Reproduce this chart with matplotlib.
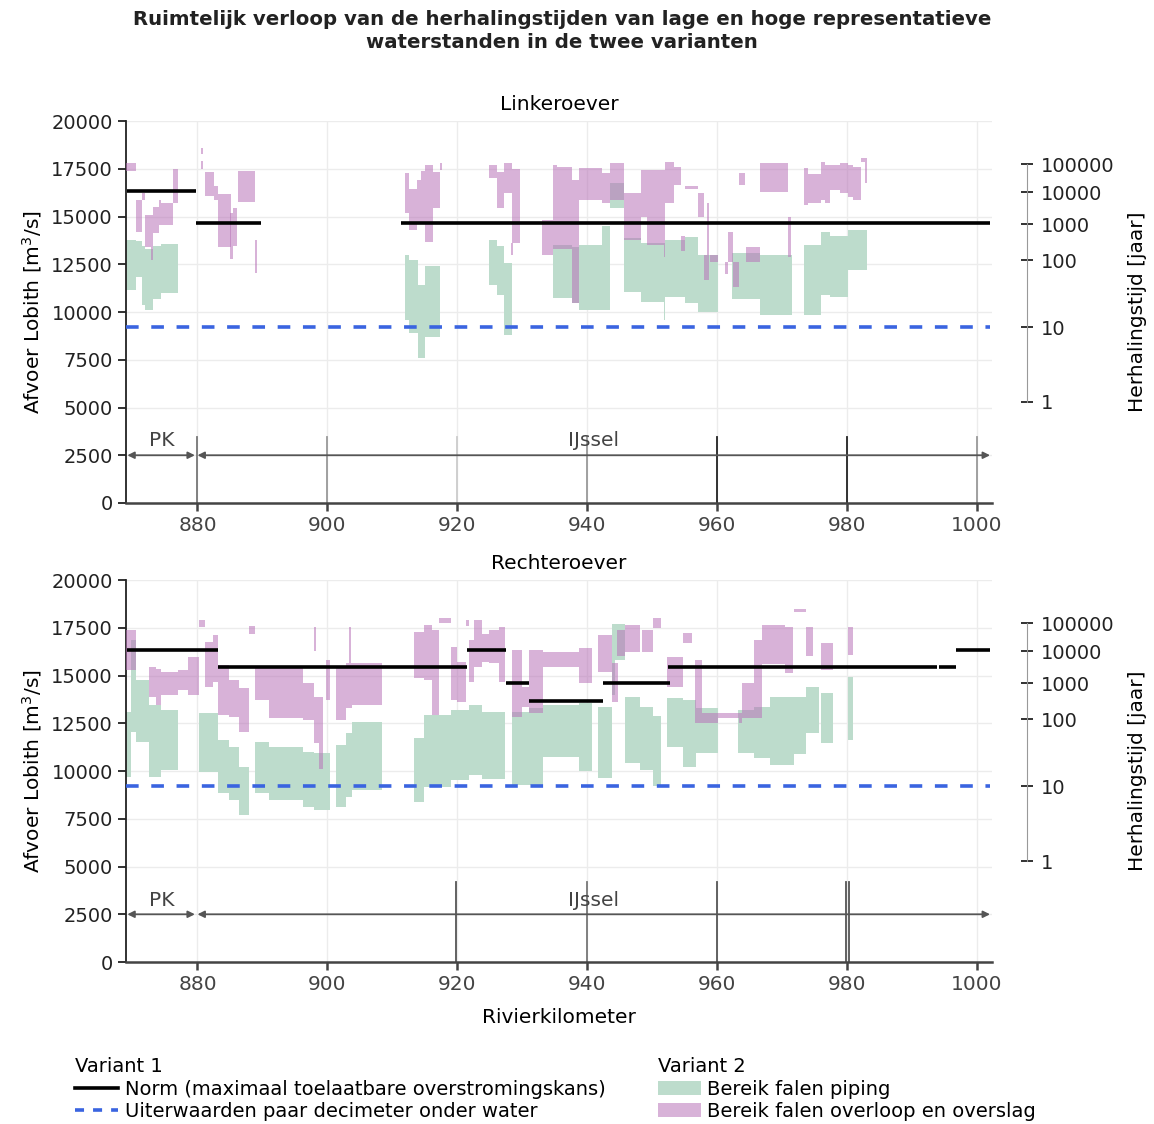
import matplotlib
matplotlib.use("Agg")
import matplotlib.pyplot as plt
from matplotlib.lines import Line2D
from matplotlib.patches import Patch

# (km van, km tot, afvoer laag, afvoer hoog) in m3/s
links_piping = [
    (869.0, 870.5, 11150, 13770), (870.5, 871.4, 11850, 13700), (871.4, 871.9, 10350, 13450),
    (871.9, 873.1, 10100, 13300), (873.1, 874.4, 10700, 13450), (874.4, 877.0, 11000, 13540),
    (911.9, 912.6, 9580, 12990), (912.6, 913.9, 8880, 12700), (913.9, 915.1, 7570, 11400),
    (915.1, 917.4, 8710, 12400),
    (924.9, 926.1, 11410, 13770), (926.1, 927.2, 10880, 13460), (927.2, 928.4, 8800, 12550),
    (934.7, 937.6, 10720, 13510), (937.6, 938.7, 10460, 13400), (938.7, 942.3, 10100, 13510),
    (942.3, 943.5, 10100, 14480), (943.5, 945.6, 15430, 16740),
    (945.6, 948.2, 11060, 13860), (948.2, 951.8, 10540, 13600), (951.8, 952.0, 9580, 13600),
    (952.0, 955.0, 10800, 13770), (955.0, 957.0, 10460, 13950), (957.0, 960.2, 10020, 12990),
    (962.3, 966.6, 10700, 13080), (966.6, 971.5, 9840, 12990),
    (973.4, 976.0, 9840, 13510), (976.0, 977.3, 10900, 14200), (977.3, 980.2, 10800, 14000),
    (980.2, 983.0, 12200, 14300),
]
links_overloop = [
    (869.0, 870.5, 17400, 17820), (870.5, 871.4, 14170, 15870), (871.4, 871.9, 15850, 16210),
    (871.9, 873.1, 13390, 15080), (872.9, 873.2, 12700, 13400), (873.1, 874.1, 14150, 15520),
    (874.1, 874.4, 14560, 15870), (874.4, 876.2, 14560, 15730), (876.2, 877.0, 15730, 17500),
    (880.6, 880.9, 18300, 18600), (880.6, 880.8, 17500, 17900),
    (881.1, 882.6, 16100, 17350), (882.6, 883.2, 15870, 16600), (883.2, 885.2, 13400, 16200),
    (885.0, 885.4, 12800, 15200), (885.4, 886.1, 13440, 15450), (886.2, 888.8, 15740, 17400),
    (888.8, 889.2, 12050, 13750),
    (911.9, 912.6, 15170, 17260), (912.6, 913.8, 14300, 16430), (913.8, 914.4, 14650, 16910),
    (914.4, 915.1, 14650, 17400), (915.1, 916.3, 13680, 17700), (916.3, 917.4, 15430, 17350),
    (917.4, 917.6, 17450, 17800),
    (924.9, 926.1, 17000, 17700), (926.1, 927.2, 15430, 17350), (927.2, 928.4, 16210, 17790),
    (928.4, 929.6, 13600, 17470), (928.2, 928.5, 12990, 13600),
    (933.0, 934.7, 13000, 14820), (934.7, 935.3, 13300, 17700), (935.3, 937.6, 13300, 17600),
    (937.6, 938.7, 10460, 16910), (938.7, 942.3, 15870, 17520), (942.3, 943.5, 15700, 17260),
    (943.5, 945.6, 15870, 17800), (945.6, 948.2, 13770, 16210), (948.2, 949.2, 15000, 17430),
    (949.2, 952.0, 13510, 17430), (951.8, 952.0, 12900, 13510), (952.0, 953.3, 15700, 17870),
    (953.3, 954.5, 16650, 17610), (954.5, 955.0, 13200, 14000), (955.1, 957.0, 16450, 16600),
    (957.0, 957.9, 15000, 16210), (957.9, 958.7, 11700, 12990), (958.4, 958.7, 12990, 15700),
    (958.9, 960.2, 12640, 12990), (961.2, 961.7, 12000, 12640), (961.7, 962.5, 12640, 14200),
    (962.5, 963.4, 11320, 12640), (963.4, 964.3, 16650, 17260), (964.5, 966.6, 12640, 13420),
    (966.6, 970.9, 16300, 17820), (970.9, 971.4, 12900, 15000),
    (973.4, 974.0, 15600, 17520), (974.0, 976.0, 15700, 17250), (976.0, 976.6, 15870, 17870),
    (976.6, 977.3, 15700, 17700), (977.3, 978.9, 16390, 17700), (978.9, 980.2, 16210, 17790),
    (980.2, 980.9, 16040, 17700), (980.9, 982.1, 15870, 17610), (982.1, 983.0, 17870, 18050),
    (982.7, 983.0, 16740, 17870),
]
rechts_piping = [
    (869.0, 869.8, 9710, 13110), (869.8, 870.5, 12060, 16860), (870.5, 872.6, 11530, 14770),
    (872.6, 874.4, 9710, 13460), (874.4, 877.0, 10050, 13200),
    (880.3, 883.2, 9970, 13020), (883.2, 884.9, 8830, 11620), (884.9, 886.45, 8480, 11270),
    (886.45, 887.9, 7700, 10230), (888.85, 891.05, 8830, 11530), (891.05, 896.3, 8480, 11270),
    (896.3, 897.95, 8130, 11010), (897.95, 900.4, 7960, 10930), (901.4, 902.8, 8130, 11360),
    (902.8, 903.85, 8660, 11970), (903.85, 908.45, 9000, 12580),
    (913.3, 914.9, 8400, 11710), (914.9, 918.95, 9180, 12930), (918.95, 921.8, 9530, 13200),
    (921.8, 923.85, 9800, 13460), (923.85, 927.3, 9610, 13110),
    (928.4, 931.0, 9270, 13110), (931.0, 933.2, 9270, 13290), (933.2, 938.7, 10750, 13460),
    (938.7, 940.8, 10000, 13550), (941.6, 943.8, 9640, 13380), (943.8, 944.3, 14000, 17680),
    (944.3, 945.8, 15810, 17680), (945.8, 948.1, 10400, 13890), (948.1, 950.1, 10050, 13370),
    (950.1, 951.4, 9200, 12900), (952.3, 954.8, 11270, 13810), (954.8, 956.8, 10230, 13720),
    (956.8, 960.2, 10930, 13290), (963.2, 965.6, 10930, 13200), (965.6, 968.1, 10670, 13370),
    (968.1, 971.9, 10320, 13890), (971.9, 973.7, 10900, 13890), (973.7, 975.6, 11970, 14420),
    (976.0, 977.9, 11450, 14070), (980.15, 980.9, 11620, 14940),
]
rechts_overloop = [
    (869.0, 870.5, 15290, 17380), (872.6, 873.65, 13890, 15460), (873.65, 874.4, 13460, 15370),
    (874.4, 877.0, 13980, 15200), (877.0, 878.5, 14240, 15290), (878.5, 880.3, 13980, 15960),
    (880.3, 881.2, 17550, 17900), (881.2, 882.35, 14420, 16780), (882.35, 883.2, 14680, 17120),
    (883.2, 884.9, 12930, 15550), (884.9, 886.45, 12850, 14770), (886.45, 887.9, 12060, 14330),
    (887.9, 888.85, 17200, 17600), (888.85, 891.05, 13720, 15460), (891.05, 896.3, 12760, 15460),
    (896.3, 897.95, 12670, 14590), (897.95, 898.7, 11450, 13890), (898.7, 899.3, 10100, 13890),
    (898.0, 898.2, 16300, 17560), (899.8, 900.4, 13720, 15810), (901.4, 902.8, 12670, 15460),
    (902.8, 903.85, 13290, 15640), (903.4, 903.7, 15640, 17560), (903.85, 908.45, 13460, 15640),
    (913.3, 914.9, 14850, 17290), (914.9, 916.15, 14770, 17650), (916.15, 917.2, 12930, 17380),
    (917.2, 918.95, 17730, 17990), (918.95, 920.0, 13720, 16510), (920.0, 921.3, 13600, 15700),
    (921.3, 921.8, 17600, 17900), (921.8, 922.55, 14680, 16860), (922.55, 923.85, 15460, 17900),
    (923.85, 924.85, 15700, 17200), (924.85, 926.4, 15640, 17380), (926.4, 927.3, 14680, 17560),
    (928.4, 930.0, 12850, 16340), (930.0, 931.0, 13370, 14420), (931.0, 933.2, 13020, 16340),
    (933.2, 938.7, 15460, 16250), (938.7, 940.8, 14590, 16430), (941.6, 943.8, 15200, 17120),
    (943.8, 944.7, 13630, 15640), (944.6, 945.8, 16040, 17400), (945.8, 948.1, 16210, 17640),
    (948.4, 950.1, 16210, 17380), (950.1, 951.4, 17500, 18000), (952.3, 954.8, 14420, 15990),
    (954.8, 956.1, 16690, 17210), (956.6, 957.7, 12500, 15810), (957.7, 960.2, 12500, 13020),
    (960.2, 963.4, 12760, 13020), (963.4, 963.8, 12500, 13020), (963.8, 965.6, 12760, 14590),
    (965.6, 966.9, 12760, 16860), (966.9, 970.5, 15630, 17640), (970.5, 971.6, 15110, 17560),
    (971.9, 973.7, 18340, 18500), (973.7, 974.8, 16000, 17560), (976.0, 977.9, 15290, 16690),
    (980.15, 980.9, 16080, 17560),
]

# norm: (km van, km tot, afvoer)
links_norm = [(869.2, 879.8, 16340), (879.8, 889.8, 14660), (911.3, 1002.0, 14660)]
rechts_norm = [
    (869.2, 883.2, 16340), (883.2, 921.5, 15460), (921.5, 927.5, 16340), (927.5, 931.0, 14620),
    (931.0, 942.5, 13680), (942.5, 952.8, 14620), (952.5, 993.8, 15460), (994.2, 996.8, 15460),
    (996.8, 1002.0, 16340),
]
uiterwaarden_q = 9215

# herhalingstijd-as (jaar) en bijbehorende afvoer
herhalingstijd = [1, 10, 100, 1000, 10000, 100000]
herhalingstijd_q = [5290, 9215, 12720, 14600, 16280, 17750]

# grenzen rivierdelen (km) en trajectgrenzen
pk_range = (869.2, 879.6)
ijssel_range = (880.0, 1002.0)
links_grenzen = [880, 900, 920, 940, 960, 980, 1000]
links_grens_kleur = ['#777777', '#999999', '#cccccc', '#999999', '#222222', '#222222', '#999999']
rechts_grenzen = [919.8, 940.0, 960.0, 979.8, 980.3]
rechts_grens_kleur = ['#555555', '#777777', '#555555', '#555555', '#555555']

GREEN = '#bddccc'
PURPLE = '#b873b8'
FS = 14.5
TFS = 14

fig = plt.figure(figsize=(11.54, 11.24), dpi=100)
ax_top = fig.add_axes([0.1092, 0.5525, 0.7504, 0.3398])
ax_bot = fig.add_axes([0.1092, 0.1441, 0.7504, 0.3398])


def draw_panel(ax, piping, overloop, norm, grenzen, grens_kleur, grens_top, title):
    for k0, k1, lo, hi in piping:
        ax.bar(k0, hi - lo, width=k1 - k0, bottom=lo, align='edge', color=GREEN,
               linewidth=0, zorder=2)
    for k0, k1, lo, hi in overloop:
        ax.bar(k0, hi - lo, width=k1 - k0, bottom=lo, align='edge', color=PURPLE,
               alpha=0.55, linewidth=0, zorder=3)
    for k0, k1, q in norm:
        ax.plot([k0, k1], [q, q], color='black', lw=2.6, solid_capstyle='butt', zorder=4)
    ax.plot([869, 1002], [uiterwaarden_q, uiterwaarden_q], color='#3a64e0', lw=2.6,
            dashes=(3.5, 3.5), zorder=4)

    # rivierdelen
    for x, c in zip(grenzen, grens_kleur):
        ax.plot([x, x], [0, grens_top], color=c, lw=1.3, zorder=1)
    ax.annotate('', xy=(pk_range[0], 2500), xytext=(pk_range[1], 2500),
                arrowprops=dict(arrowstyle='<|-|>', color='#555555', lw=1.3,
                                mutation_scale=10, shrinkA=0, shrinkB=0))
    ax.annotate('', xy=(ijssel_range[0], 2500), xytext=(ijssel_range[1], 2500),
                arrowprops=dict(arrowstyle='<|-|>', color='#555555', lw=1.3,
                                mutation_scale=10, shrinkA=0, shrinkB=0))
    ax.text(874.5, 2750, 'PK', ha='center', va='bottom', fontsize=FS, color='#444444')
    ax.text(941, 2750, 'IJssel', ha='center', va='bottom', fontsize=FS, color='#444444')

    ax.set_xlim(869, 1002.3)
    ax.set_ylim(0, 20000)
    ax.set_xticks([880, 900, 920, 940, 960, 980, 1000])
    ax.set_yticks(range(0, 20001, 2500))
    ax.grid(True, color='#ececec', lw=1.0, zorder=0)
    ax.set_axisbelow(True)
    for s in ['top', 'right']:
        ax.spines[s].set_visible(False)
    ax.spines['left'].set_color('#222222')
    ax.spines['left'].set_linewidth(1.3)
    ax.spines['bottom'].set_color('#444444')
    ax.spines['bottom'].set_linewidth(1.8)
    ax.tick_params(axis='both', labelsize=TFS, length=6, width=1.3, colors='#222222')
    ax.tick_params(axis='x', colors='#444444', width=1.8, labelsize=FS)
    ax.set_ylabel('Afvoer Lobith [m$^3$/s]', fontsize=FS, labelpad=5)
    ax.set_title(title, fontsize=FS, pad=8)

    ax2 = ax.twinx()
    ax2.set_ylim(0, 20000)
    ax2.set_yticks(herhalingstijd_q)
    ax2.set_yticklabels([str(v) for v in herhalingstijd])
    for s in ['top', 'left', 'bottom']:
        ax2.spines[s].set_visible(False)
    ax2.spines['right'].set_position(('outward', 25))
    ax2.spines['right'].set_bounds(herhalingstijd_q[0], herhalingstijd_q[-1])
    ax2.spines['right'].set_color('#999999')
    ax2.tick_params(axis='y', direction='inout', length=8, width=1.3, colors='#222222',
                    labelsize=TFS, pad=6)
    ax2.set_ylabel('Herhalingstijd [jaar]', fontsize=FS, labelpad=10)


draw_panel(ax_top, links_piping, links_overloop, links_norm, links_grenzen,
           links_grens_kleur, 3450, 'Linkeroever')
draw_panel(ax_bot, rechts_piping, rechts_overloop, rechts_norm, rechts_grenzen,
           rechts_grens_kleur, 4190, 'Rechteroever')
ax_bot.set_xlabel('Rivierkilometer', fontsize=FS, labelpad=10)

fig.text(0.487, 0.9724, 'Ruimtelijk verloop van de herhalingstijden van lage en hoge representatieve\n'
         'waterstanden in de twee varianten', fontsize=14.2, fontweight='bold',
         ha='center', va='center', color='#222222', linespacing=1.25)

# legenda
LFS = 14
h1 = [Line2D([], [], color='black', lw=2.6),
      Line2D([], [], color='#3a64e0', lw=2.6, dashes=(2.5, 2.5))]
leg1 = fig.legend(h1, ['Norm (maximaal toelaatbare overstromingskans)',
                       'Uiterwaarden paar decimeter onder water'],
                  title='Variant 1', loc='upper left', bbox_to_anchor=(0.065, 0.0596),
                  frameon=False, fontsize=LFS, title_fontsize=LFS, alignment='left',
                  handlelength=2.2, handletextpad=0.35, labelspacing=0.18, borderpad=0,
                  borderaxespad=0)
h2 = [Patch(facecolor=GREEN, edgecolor='none'),
      Patch(facecolor='#d8b2d8', edgecolor='none')]
leg2 = fig.legend(h2, ['Bereik falen piping', 'Bereik falen overloop en overslag'],
                  title='Variant 2', loc='upper left', bbox_to_anchor=(0.570, 0.0596),
                  frameon=False, fontsize=LFS, title_fontsize=LFS, alignment='left',
                  handlelength=2.2, handletextpad=0.35, labelspacing=0.18, borderpad=0,
                  borderaxespad=0)

fig.savefig('out.png', dpi=100)
